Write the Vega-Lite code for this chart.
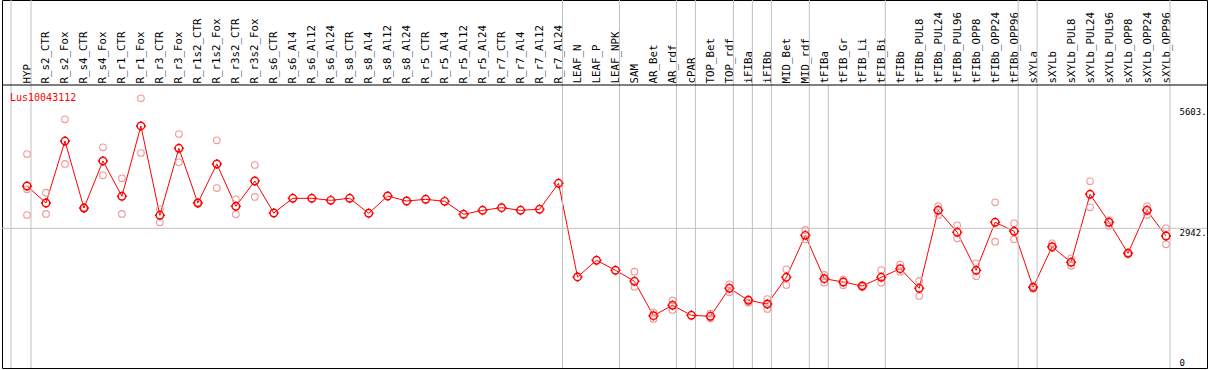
{
  "$schema": "https://vega.github.io/schema/vega-lite/v6.json",
  "width": 1205,
  "height": 368,
  "autosize": "none",
  "padding": {"left": 2, "top": 0, "right": 2, "bottom": 2},
  "background": "white",
  "config": {
    "view": {"stroke": "black", "strokeWidth": 1},
    "font": "DejaVu Sans Mono"
  },
  "datasets": {
    "means": [
      {"col": "HYP", "value": 3870},
      {"col": "R_s2_CTR", "value": 3497},
      {"col": "R_s2_Fox", "value": 4857},
      {"col": "R_s4_CTR", "value": 3387},
      {"col": "R_s4_Fox", "value": 4419},
      {"col": "R_r1_CTR", "value": 3644},
      {"col": "R_r1_Fox", "value": 5187},
      {"col": "R_r3_CTR", "value": 3227},
      {"col": "R_r3_Fox", "value": 4697},
      {"col": "R_r1s2_CTR", "value": 3497},
      {"col": "R_r1s2_Fox", "value": 4353},
      {"col": "R_r3s2_CTR", "value": 3425},
      {"col": "R_r3s2_Fox", "value": 3980},
      {"col": "R_s6_CTR", "value": 3278},
      {"col": "R_s6_Al4", "value": 3600},
      {"col": "R_s6_Al12", "value": 3600},
      {"col": "R_s6_Al24", "value": 3556},
      {"col": "R_s8_CTR", "value": 3600},
      {"col": "R_s8_Al4", "value": 3271},
      {"col": "R_s8_Al12", "value": 3651},
      {"col": "R_s8_Al24", "value": 3541},
      {"col": "R_r5_CTR", "value": 3578},
      {"col": "R_r5_Al4", "value": 3534},
      {"col": "R_r5_Al12", "value": 3249},
      {"col": "R_r5_Al24", "value": 3337},
      {"col": "R_r7_CTR", "value": 3394},
      {"col": "R_r7_Al4", "value": 3337},
      {"col": "R_r7_Al12", "value": 3359},
      {"col": "R_r7_Al24", "value": 3929},
      {"col": "LEAF_N", "value": 1874},
      {"col": "LEAF_P", "value": 2240},
      {"col": "LEAF_NPK", "value": 2021},
      {"col": "SAM", "value": 1779},
      {"col": "AR_Bet", "value": 1025},
      {"col": "AR_rdf", "value": 1253},
      {"col": "cPAR", "value": 1033},
      {"col": "TOP_Bet", "value": 1011},
      {"col": "TOP_rdf", "value": 1626},
      {"col": "iFIBa", "value": 1362},
      {"col": "iFIBb", "value": 1281},
      {"col": "MID_Bet", "value": 1867},
      {"col": "MID_rdf", "value": 2788},
      {"col": "tFIBa", "value": 1836},
      {"col": "tFIB_Gr", "value": 1764},
      {"col": "tFIB_Li", "value": 1676},
      {"col": "tFIB_Bi", "value": 1867},
      {"col": "tFIBb", "value": 2056},
      {"col": "tFIBb_PUL8", "value": 1626},
      {"col": "tFIBb_PUL24", "value": 3337},
      {"col": "tFIBb_PUL96", "value": 2854},
      {"col": "tFIBb_OPP8", "value": 2021},
      {"col": "tFIBb_OPP24", "value": 3074},
      {"col": "tFIBb_OPP96", "value": 2876},
      {"col": "sXYLa", "value": 1648},
      {"col": "sXYLb", "value": 2538},
      {"col": "sXYLb_PUL8", "value": 2196},
      {"col": "sXYLb_PUL24", "value": 3688},
      {"col": "sXYLb_PUL96", "value": 3074},
      {"col": "sXYLb_OPP8", "value": 2394},
      {"col": "sXYLb_OPP24", "value": 3337},
      {"col": "sXYLb_OPP96", "value": 2773}
    ],
    "reps": [
      {"col": "HYP", "value": 4572}, {"col": "HYP", "value": 3798}, {"col": "HYP", "value": 3234},
      {"col": "R_s2_CTR", "value": 3723}, {"col": "R_s2_CTR", "value": 3256},
      {"col": "R_s2_Fox", "value": 5334}, {"col": "R_s2_Fox", "value": 4353},
      {"col": "R_s4_CTR", "value": 3400}, {"col": "R_s4_CTR", "value": 3375},
      {"col": "R_s4_Fox", "value": 4719}, {"col": "R_s4_Fox", "value": 4105},
      {"col": "R_r1_CTR", "value": 4039}, {"col": "R_r1_CTR", "value": 3256},
      {"col": "R_r1_Fox", "value": 5794}, {"col": "R_r1_Fox", "value": 4594},
      {"col": "R_r3_CTR", "value": 3359}, {"col": "R_r3_CTR", "value": 3074},
      {"col": "R_r3_Fox", "value": 5011}, {"col": "R_r3_Fox", "value": 4390},
      {"col": "R_r1s2_CTR", "value": 3510}, {"col": "R_r1s2_CTR", "value": 3485},
      {"col": "R_r1s2_Fox", "value": 4873}, {"col": "R_r1s2_Fox", "value": 3826},
      {"col": "R_r3s2_CTR", "value": 3578}, {"col": "R_r3s2_CTR", "value": 3249},
      {"col": "R_r3s2_Fox", "value": 4331}, {"col": "R_r3s2_Fox", "value": 3629},
      {"col": "SAM", "value": 1990}, {"col": "SAM", "value": 1661},
      {"col": "AR_Bet", "value": 1099}, {"col": "AR_Bet", "value": 952},
      {"col": "AR_rdf", "value": 1362}, {"col": "AR_rdf", "value": 1150},
      {"col": "TOP_Bet", "value": 1068}, {"col": "TOP_Bet", "value": 968},
      {"col": "TOP_rdf", "value": 1713}, {"col": "TOP_rdf", "value": 1538},
      {"col": "iFIBa", "value": 1384}, {"col": "iFIBa", "value": 1310},
      {"col": "iFIBb", "value": 1391}, {"col": "iFIBb", "value": 1172},
      {"col": "MID_Bet", "value": 2043}, {"col": "MID_Bet", "value": 1698},
      {"col": "MID_rdf", "value": 2905}, {"col": "MID_rdf", "value": 2701},
      {"col": "tFIBa", "value": 1918}, {"col": "tFIBa", "value": 1749},
      {"col": "tFIB_Gr", "value": 1823}, {"col": "tFIB_Gr", "value": 1692},
      {"col": "tFIB_Li", "value": 1690}, {"col": "tFIB_Li", "value": 1660},
      {"col": "tFIB_Bi", "value": 2027}, {"col": "tFIB_Bi", "value": 1749},
      {"col": "tFIBb", "value": 2145}, {"col": "tFIBb", "value": 1990},
      {"col": "tFIBb_PUL8", "value": 1786}, {"col": "tFIBb_PUL8", "value": 1457},
      {"col": "tFIBb_PUL24", "value": 3431}, {"col": "tFIBb_PUL24", "value": 3234},
      {"col": "tFIBb_PUL96", "value": 3008}, {"col": "tFIBb_PUL96", "value": 2723},
      {"col": "tFIBb_OPP8", "value": 2174}, {"col": "tFIBb_OPP8", "value": 1889},
      {"col": "tFIBb_OPP24", "value": 3513}, {"col": "tFIBb_OPP24", "value": 2648},
      {"col": "tFIBb_OPP96", "value": 3052}, {"col": "tFIBb_OPP96", "value": 2701},
      {"col": "sXYLa", "value": 1676}, {"col": "sXYLa", "value": 1617},
      {"col": "sXYLb", "value": 2613}, {"col": "sXYLb", "value": 2503},
      {"col": "sXYLb_PUL8", "value": 2284}, {"col": "sXYLb_PUL8", "value": 2122},
      {"col": "sXYLb_PUL24", "value": 3973}, {"col": "sXYLb_PUL24", "value": 3403},
      {"col": "sXYLb_PUL96", "value": 3124}, {"col": "sXYLb_PUL96", "value": 2999},
      {"col": "sXYLb_OPP8", "value": 2407}, {"col": "sXYLb_OPP8", "value": 2378},
      {"col": "sXYLb_OPP24", "value": 3431}, {"col": "sXYLb_OPP24", "value": 3234},
      {"col": "sXYLb_OPP96", "value": 2942}, {"col": "sXYLb_OPP96", "value": 2591}
    ],
    "groups": [
      {"col": "HYP"}, {"col": "R_r7_Al24"}, {"col": "LEAF_NPK"}, {"col": "AR_rdf"},
      {"col": "cPAR"}, {"col": "TOP_rdf"}, {"col": "iFIBa"}, {"col": "iFIBb"},
      {"col": "MID_rdf"}, {"col": "tFIB_Bi"}, {"col": "tFIBb_OPP96"}, {"col": "sXYLa"},
      {"col": "sXYLb_OPP96"}
    ],
    "subgroups": [{"col": "tFIBa"}]
  },
  "layer": [
    {
      "data": {"name": "means"},
      "mark": {"type": "line", "color": "red", "strokeWidth": 1},
      "encoding": {
        "x": {
          "field": "col", "type": "nominal", "title": null,
          "scale": {
            "type": "point", "padding": 0, "range": [25, 1164],
            "domain": ["HYP","R_s2_CTR","R_s2_Fox","R_s4_CTR","R_s4_Fox","R_r1_CTR","R_r1_Fox","R_r3_CTR","R_r3_Fox","R_r1s2_CTR","R_r1s2_Fox","R_r3s2_CTR","R_r3s2_Fox","R_s6_CTR","R_s6_Al4","R_s6_Al12","R_s6_Al24","R_s8_CTR","R_s8_Al4","R_s8_Al12","R_s8_Al24","R_r5_CTR","R_r5_Al4","R_r5_Al12","R_r5_Al24","R_r7_CTR","R_r7_Al4","R_r7_Al12","R_r7_Al24","LEAF_N","LEAF_P","LEAF_NPK","SAM","AR_Bet","AR_rdf","cPAR","TOP_Bet","TOP_rdf","iFIBa","iFIBb","MID_Bet","MID_rdf","tFIBa","tFIB_Gr","tFIB_Li","tFIB_Bi","tFIBb","tFIBb_PUL8","tFIBb_PUL24","tFIBb_PUL96","tFIBb_OPP8","tFIBb_OPP24","tFIBb_OPP96","sXYLa","sXYLb","sXYLb_PUL8","sXYLb_PUL24","sXYLb_PUL96","sXYLb_OPP8","sXYLb_OPP24","sXYLb_OPP96"]
          },
          "axis": {
            "orient": "top", "offset": -85, "labelAngle": -90, "labelAlign": "left",
            "labelBaseline": "middle", "labelPadding": 2, "ticks": false, "tickSize": 0,
            "domain": false, "grid": false, "labelFontSize": 10.8, "labelColor": "black",
            "labelFont": "DejaVu Sans Mono", "labelOverlap": false, "labelLimit": 0
          }
        },
        "y": {
          "field": "value", "type": "quantitative", "title": null,
          "scale": {"domain": [-123, 7951], "nice": false, "zero": false},
          "axis": {
            "orient": "right", "offset": -37, "values": [0, 2942, 5603],
            "labelExpr": "datum.value == 0 ? '0' : datum.value + '.'",
            "domain": false, "ticks": false, "tickSize": 0, "grid": false,
            "labelPadding": 9, "labelAlign": "left", "labelBaseline": "top",
            "labelOffset": {"condition": {"test": "datum.value == 0", "value": -3.5}, "value": 0},
            "labelFontSize": 9, "labelColor": "black", "labelFont": "DejaVu Sans Mono"
          }
        },
        "order": {"value": null}
      }
    },
    {
      "data": {"name": "groups"},
      "mark": {"type": "rule", "color": "#c0c0c0", "strokeWidth": 1, "xOffset": 4},
      "encoding": {"x": {"field": "col", "type": "nominal", "title": null}}
    },
    {
      "data": {"name": "subgroups"},
      "mark": {"type": "rule", "color": "#c0c0c0", "strokeWidth": 1, "xOffset": 4},
      "encoding": {
        "x": {"field": "col", "type": "nominal", "title": null},
        "y": {"datum": 6086, "type": "quantitative"},
        "y2": {"datum": -123}
      }
    },
    {
      "data": {"values": [{}]},
      "mark": {"type": "rule", "color": "#c0c0c0", "strokeWidth": 1, "xOffset": -16},
      "encoding": {"x": {"datum": "HYP", "type": "nominal"}}
    },
    {
      "data": {"values": [{}]},
      "mark": {"type": "rule", "color": "#c0c0c0", "strokeWidth": 1},
      "encoding": {"y": {"datum": 2942, "type": "quantitative"}}
    },
    {
      "data": {"values": [{}]},
      "mark": {"type": "rule", "color": "black", "strokeWidth": 1},
      "encoding": {"y": {"datum": 6086, "type": "quantitative"}}
    },
    {
      "data": {"values": [{}]},
      "mark": {"type": "text", "text": "Lus10043112", "color": "red", "fontSize": 10, "font": "DejaVu Sans Mono", "align": "left", "baseline": "middle", "xOffset": -17},
      "encoding": {
        "x": {"datum": "HYP", "type": "nominal"},
        "y": {"datum": 5801, "type": "quantitative"}
      }
    },
    {
      "data": {"name": "reps"},
      "mark": {"type": "point", "filled": false, "stroke": "#f09999", "strokeWidth": 1.1, "size": 44, "opacity": 1, "shape": "circle"},
      "encoding": {
        "x": {"field": "col", "type": "nominal", "title": null},
        "y": {"field": "value", "type": "quantitative", "title": null}
      }
    },
    {
      "data": {"name": "means"},
      "mark": {"type": "point", "filled": false, "stroke": "red", "strokeWidth": 1.4, "size": 56, "opacity": 1,
        "shape": "M1,0A1,1 0 1,1 -1,0A1,1 0 1,1 1,0M0,-1V-1.35M0,1V1.35M-1,0H-1.35M1,0H1.35"},
      "encoding": {
        "x": {"field": "col", "type": "nominal", "title": null},
        "y": {"field": "value", "type": "quantitative", "title": null}
      }
    }
  ]
}
